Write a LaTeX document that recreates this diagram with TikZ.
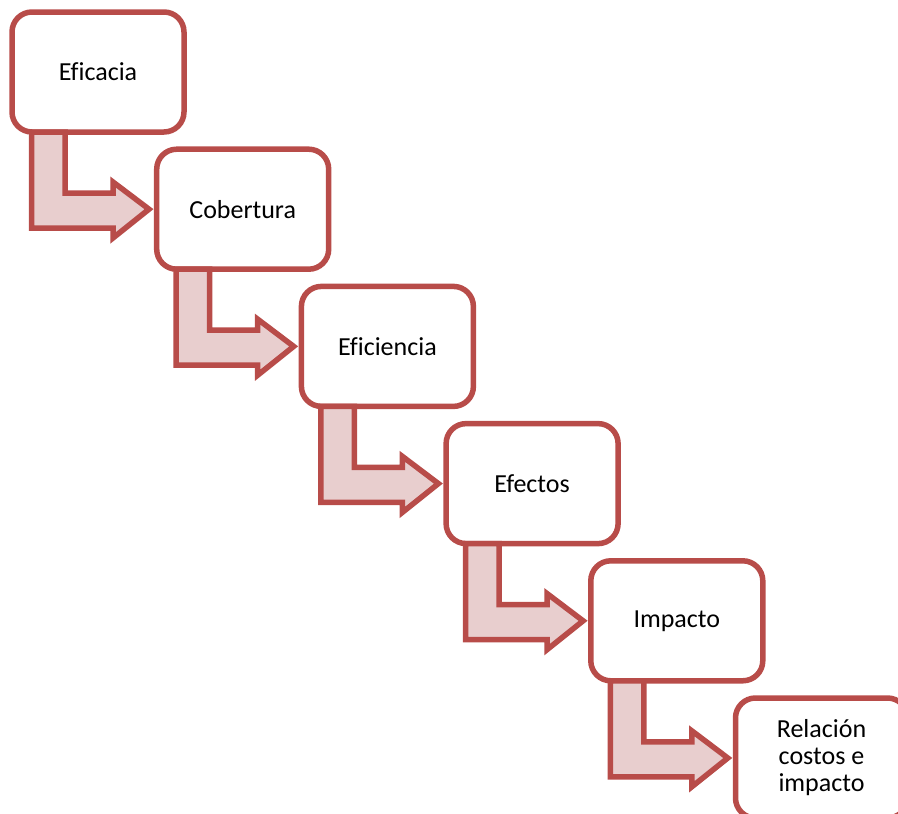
\documentclass[tikz,border=0pt]{standalone}
\usepackage{fontspec}
\setmainfont{Carlito}[Ligatures=NoCommon]
\usetikzlibrary{calc}
\definecolor{stepline}{RGB}{184,76,73}
\definecolor{stepfill}{RGB}{232,206,206}
\begin{document}
\begin{tikzpicture}[x=1pt,y=-1pt,
  stagebox/.style={draw=stepline, line width=5.5pt, rounded corners=20pt,
    fill=white, minimum width=172pt, minimum height=120pt, outer sep=0pt,
    inner sep=0pt, anchor=north west, align=center,
    font=\fontsize{26}{27}\selectfont},
  bentarrow/.style={draw=stepline, fill=stepfill, line width=5.5pt,
    line join=miter}]
  \useasboundingbox (0,0) rectangle (898,814);
  \clip (0,0) rectangle (898,814);

  % the six stages, stepping down to the right
  \node[stagebox] (s0) at (12,12)         {Eficacia};
  \node[stagebox] (s1) at (156.7,149.2)   {Cobertura};
  \node[stagebox] (s2) at (301.4,286.4)   {Eficiencia};
  \node[stagebox] (s3) at (446.1,423.6)   {Efectos};
  \node[stagebox] (s4) at (590.8,560.8)   {Impacto};
  \node[stagebox] (s5) at (735.5,698)     {Relación\\costos e\\impacto};

  % bent block arrows from the foot of each stage to the side of the next
  \foreach \a/\b in {s0/s1, s1/s2, s2/s3, s3/s4, s4/s5} {
    \draw[bentarrow]
      ($(\a.south west)+(19.5,0)$) --
      ($(\a.south west)+(19.5,96)$) --
      ($(\a.south west)+(101,96)$) --
      ($(\a.south west)+(101,106)$) --
      ($(\b.west)+(-7.7,0)$) --
      ($(\a.south west)+(101,50)$) --
      ($(\a.south west)+(101,61)$) --
      ($(\a.south west)+(53,61)$) --
      ($(\a.south west)+(53,0)$) -- cycle;
  }
\end{tikzpicture}
\end{document}
